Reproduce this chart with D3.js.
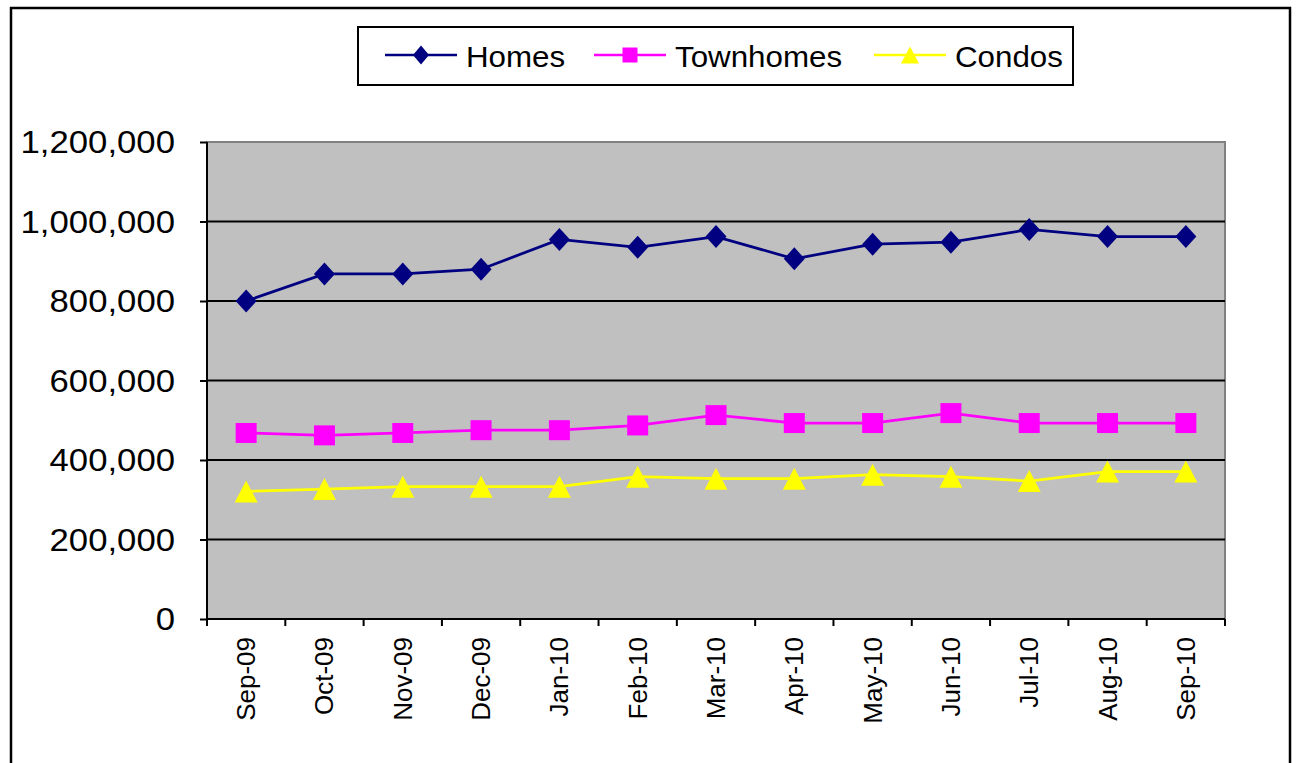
<!DOCTYPE html>
<html>
<head>
<meta charset="utf-8">
<script src="https://cdn.jsdelivr.net/npm/d3@7"></script>
<style>
  html, body { margin: 0; padding: 0; background: #fff; }
  svg { display: block; font-family: "Liberation Sans", Arial, sans-serif; }
</style>
</head>
<body>
<svg id="chart" width="1296" height="763"></svg>
<script>
// Monthly median prices by property type
const months = ["Sep-09","Oct-09","Nov-09","Dec-09","Jan-10","Feb-10","Mar-10","Apr-10","May-10","Jun-10","Jul-10","Aug-10","Sep-10"];
const homes = [800000, 868000, 868000, 880000, 955000, 935000, 962000, 906000, 943000, 948000, 980000, 962000, 962000];
const townhomes = [468000, 462000, 468000, 475000, 475000, 487000, 513000, 493000, 493000, 518000, 493000, 493000, 493000];
const condos = [321000, 327000, 333000, 333000, 333000, 358000, 353000, 353000, 363000, 358000, 347000, 371000, 371000];
const yTicks = [0, 200000, 400000, 600000, 800000, 1000000, 1200000];
const seriesNames = ["Homes", "Townhomes", "Condos"];

// marker shapes drawn with a given half-width / half-height
const diamondShape = (hw, hh) => ({
  draw(ctx) { ctx.moveTo(0, -hh); ctx.lineTo(hw, 0); ctx.lineTo(0, hh); ctx.lineTo(-hw, 0); ctx.closePath(); }
});
const squareShape = (hw, hh) => ({
  draw(ctx) { ctx.moveTo(-hw, -hh); ctx.lineTo(hw, -hh); ctx.lineTo(hw, hh); ctx.lineTo(-hw, hh); ctx.closePath(); }
});
const triangleShape = (hw, hh) => ({
  draw(ctx) { ctx.moveTo(0, -hh); ctx.lineTo(hw, hh); ctx.lineTo(-hw, hh); ctx.closePath(); }
});

const series = [
  { name: seriesNames[0], values: homes, color: "#000080", shape: diamondShape(10.5, 11.5), legendShape: diamondShape(8, 9.5) },
  { name: seriesNames[1], values: townhomes, color: "#FF00FF", shape: squareShape(10.5, 10), legendShape: squareShape(7.5, 7.5) },
  { name: seriesNames[2], values: condos, color: "#FFFF00", shape: triangleShape(11.5, 11), legendShape: triangleShape(9, 8.5) }
];

const svg = d3.select("#chart");

// outer frame
svg.append("rect")
  .attr("x", 11).attr("y", 8).attr("width", 1279).attr("height", 800)
  .attr("fill", "none").attr("stroke", "#000").attr("stroke-width", 2.5);

const plot = { left: 207, right: 1225, top: 142, bottom: 619 };

const x = d3.scaleBand().domain(months).range([plot.left, plot.right]).padding(0);
const y = d3.scaleLinear().domain([0, 1200000]).range([plot.bottom, plot.top]);

// plot background
svg.append("rect")
  .attr("x", plot.left).attr("y", plot.top)
  .attr("width", plot.right - plot.left).attr("height", plot.bottom - plot.top)
  .attr("fill", "#C0C0C0").attr("stroke", "#808080").attr("stroke-width", 2);

// horizontal gridlines
svg.append("g").selectAll("line")
  .data(yTicks.filter(d => d > 0 && d < 1200000))
  .join("line")
  .attr("x1", plot.left).attr("x2", plot.right)
  .attr("y1", d => y(d)).attr("y2", d => y(d))
  .attr("stroke", "#000").attr("stroke-width", 2);

// y axis
const fmt = d3.format(",");
const yAxis = svg.append("g").attr("transform", `translate(${plot.left},0)`)
  .call(d3.axisLeft(y).tickValues(yTicks).tickSize(7).tickPadding(0).tickFormat(fmt));
yAxis.select(".domain").attr("stroke", "#000").attr("stroke-width", 2)
  .attr("d", `M0,${plot.top}V${plot.bottom}`);
yAxis.selectAll(".tick line").attr("stroke", "#000").attr("stroke-width", 2);
yAxis.selectAll(".tick text")
  .attr("x", null)
  .attr("dy", null)
  .attr("fill", "#000")
  .attr("font-size", 31)
  .attr("text-anchor", "end")
  .attr("dominant-baseline", "central")
  .attr("transform", "translate(-32,0) scale(1.12,1)");

// x axis with ticks at category boundaries
const xAxisG = svg.append("g").attr("transform", `translate(0,${plot.bottom})`);
xAxisG.append("line")
  .attr("x1", plot.left).attr("x2", plot.right)
  .attr("stroke", "#000").attr("stroke-width", 2);
const edges = months.map(m => x(m)).concat([x(months[months.length - 1]) + x.bandwidth()]);
xAxisG.selectAll("line.tk").data(edges).join("line").attr("class", "tk")
  .attr("x1", d => d).attr("x2", d => d).attr("y1", 0).attr("y2", 7)
  .attr("stroke", "#000").attr("stroke-width", 2);
xAxisG.selectAll("text").data(months).join("text")
  .attr("transform", d => `translate(${x(d) + x.bandwidth() / 2},18) rotate(-90)`)
  .attr("text-anchor", "end")
  .attr("dominant-baseline", "central")
  .attr("font-size", 26)
  .attr("fill", "#000")
  .text(d => d);

// series lines and markers
const line = d3.line().x((d, i) => x(months[i]) + x.bandwidth() / 2).y(d => y(d));
series.forEach(s => {
  const g = svg.append("g");
  g.append("path").datum(s.values)
    .attr("d", line).attr("fill", "none")
    .attr("stroke", s.color).attr("stroke-width", 2.75);
  g.selectAll("path.m").data(s.values).join("path").attr("class", "m")
    .attr("transform", (d, i) => `translate(${x(months[i]) + x.bandwidth() / 2},${y(d)})`)
    .attr("d", d3.symbol().type(s.shape).size(1))
    .attr("fill", s.color);
});

// legend
const lg = svg.append("g");
lg.append("rect").attr("x", 358).attr("y", 27).attr("width", 715).attr("height", 58)
  .attr("fill", "#fff").attr("stroke", "#000").attr("stroke-width", 2);
const legendX = [385, 594, 874];
series.forEach((s, i) => {
  const lx = legendX[i];
  lg.append("line").attr("x1", lx).attr("x2", lx + 72).attr("y1", 55).attr("y2", 55)
    .attr("stroke", s.color).attr("stroke-width", 2.5);
  lg.append("path").attr("transform", `translate(${lx + 36},55)`)
    .attr("d", d3.symbol().type(s.legendShape).size(1)).attr("fill", s.color);
  lg.append("text")
    .attr("transform", `translate(${lx + 81},67) scale(1.08,1)`)
    .attr("font-size", 29).attr("fill", "#000")
    .text(s.name);
});
</script>
</body>
</html>
